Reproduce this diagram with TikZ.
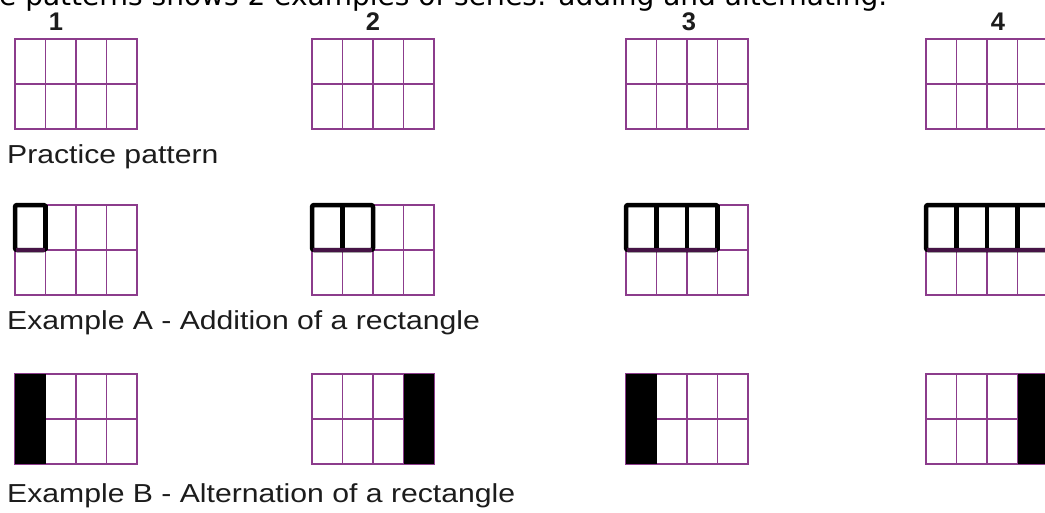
\documentclass[tikz,border=0pt]{standalone}
\usepackage{fontspec}
\setmainfont{Liberation Sans}
\newfontfamily\headfont{DejaVu Sans}
\newfontfamily\widefont[FakeStretch=1.16]{Liberation Sans}
\definecolor{gridpurple}{RGB}{140,60,140}
\definecolor{darkplum}{RGB}{70,20,70}
\definecolor{inkgray}{RGB}{28,28,28}

\begin{document}
\begin{tikzpicture}[x=1pt, y=1pt,
  gridline/.style={draw=gridpurple, line width=1.2pt},
  thickbox/.style={draw=black, line width=4.5pt, rounded corners=2pt, line join=round},
  baseline/.style={draw=darkplum, line width=3.8pt},
  lbl/.style={font=\widefont\fontsize{26}{30}\selectfont, text=inkgray, anchor=base west, inner sep=0pt},
  num/.style={font=\bfseries\fontsize{25.5}{28}\selectfont, text=inkgray, anchor=base, inner sep=0pt},
  head/.style={font=\headfont\fontsize{28}{32}\selectfont, text=black, anchor=base west, inner sep=0pt}
]
\useasboundingbox[fill=white] (0,0) rectangle (1045,-512);
\clip (0,0) rectangle (1045,-512);

% cut-off heading and the numbers
\node[head] (head) at (-1,-5) {e patterns shows 2 examples of series: adding and alternating.};
\node[num] (n1) at (56,-30) {1};
\node[num] (n2) at (373,-30) {2};
\node[num] (n3) at (689,-30) {3};
\node[num] (n4) at (998,-30) {4};

% the twelve 4x2 grids
\foreach \gx in {15,312,626,926} {
  \foreach \gy in {39,205,374} {
    \draw[gridline] (\gx,-\gy) rectangle ++(122,-90);
    \draw[gridline] (\gx,-\gy-45) -- ++(122,0);
    \foreach \c in {1,2,3}
      \draw[gridline] ({\gx+30.5*\c},-\gy) -- ++(0,-90);
  }
}

% example A: one more rectangle each time
\foreach \gx/\k in {15/1,312/2,626/3,926/4} {
  \draw[thickbox] (\gx,-205) rectangle ++({30.5*\k},-45);
  \foreach \c in {1,...,\k}
    \draw[thickbox] ({\gx+30.5*\c},-205) -- ++(0,-45);
  \draw[baseline] ({\gx+1},-250) -- ++({30.5*\k-2},0);
}

% example B: the black column swaps sides
\foreach \gx/\c in {15/0,312/3,626/0,926/3}
  \fill[black] ({\gx+30.5*\c},-374) rectangle ++(30.5,-90);

% captions
\node[lbl] (practice) at (7,-163) {Practice pattern};
\node[lbl] (exA) at (7,-329) {Example A - Addition of a rectangle};
\node[lbl] (exB) at (7,-502) {Example B - Alternation of a rectangle};
\end{tikzpicture}
\end{document}
